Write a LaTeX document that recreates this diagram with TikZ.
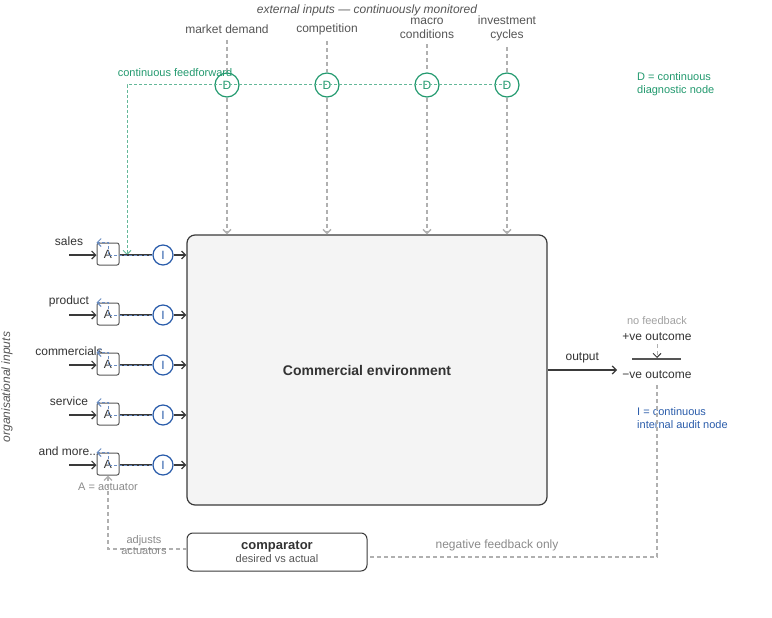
\documentclass[tikz,border=0pt]{standalone}
\usepackage{fontspec}
\setmainfont{Liberation Sans}
\usepackage{xcolor}
\usepackage{tikz}
\usetikzlibrary{arrows.meta,positioning}

\definecolor{textdark}{HTML}{333333}
\definecolor{labelgray}{HTML}{555555}
\definecolor{notegray}{HTML}{8A8A8A}
\definecolor{dashgray}{HTML}{B0B0B0}
\definecolor{boxgray}{HTML}{3A3A3A}
\definecolor{envfill}{HTML}{F4F4F4}
\definecolor{diaggreen}{HTML}{22996E}
\definecolor{auditblue}{HTML}{2A5CAA}

\begin{document}
\begin{tikzpicture}[
			x=1pt, y=-1pt,
			font=\fontsize{12}{14}\selectfont,
			>={Straight Barb[length=4pt,width=8pt]},
			lbl/.style={text=labelgray, align=center, inner sep=0pt},
			row/.style={text=textdark, inner sep=0pt},
			note/.style={font=\fontsize{11}{13}\selectfont, align=left, inner sep=0pt},
			act/.style={draw=boxgray!85, line width=1pt, rounded corners=2pt, fill=white, minimum size=22pt, inner sep=0pt, text=textdark},
			audit/.style={circle, draw=auditblue, line width=1.2pt, minimum size=20pt, inner sep=0pt, text=auditblue},
			diag/.style={circle, draw=diaggreen, line width=1.2pt, minimum size=24pt, inner sep=0pt, text=diaggreen},
			envbox/.style={draw=boxgray, line width=1.2pt, rounded corners=8pt, fill=envfill, minimum width=360pt, minimum height=270pt, font=\fontsize{14}{16}\selectfont\bfseries, text=textdark},
			compbox/.style={draw=boxgray, line width=1pt, rounded corners=6pt, fill=white, minimum width=180pt, minimum height=38pt, align=center, inner sep=0pt, text=textdark},
			flow/.style={->, line width=1.2pt, draw=boxgray},
			link/.style={line width=1.2pt, draw=boxgray},
			ext/.style={dashed, dash pattern=on 4pt off 3pt, line width=1.4pt, draw=dashgray},
			ff/.style={dash pattern=on 3pt off 2pt, line width=1pt, draw=diaggreen!70},
			fb/.style={dash pattern=on 3pt off 2pt, line width=1pt, draw=auditblue!70}
			]
			\useasboundingbox (0,0) rectangle (772,618);
			
			% external inputs
			\node[lbl, font=\fontsize{12}{14}\selectfont\itshape] (title) at (367,10) {external inputs — continuously monitored};
			\node[lbl] (md) at (227,29) {market demand};
			\node[lbl] (cp) at (327,29) {competition};
			\node[lbl] (mc) at (427,28) {macro\\conditions};
			\node[lbl] (ic) at (507,28) {investment\\cycles};
			
			\node[envbox] (env) at (367,370) {Commercial environment};
			
			\coordinate (ffcorner) at (127,85);
			\coordinate (ffend) at (127,255);
			\node[diag] (d1) at (227,85) {D};
			\node[diag] (d2) at (327,85) {D};
			\node[diag] (d3) at (427,85) {D};
			\node[diag] (d4) at (507,85) {D};
			
			\draw[ext] ([yshift=-6pt]md.south) -- (d1.north);
			\draw[ext] ([yshift=-6pt]cp.south) -- (d2.north);
			\draw[ext] ([yshift=-6pt]mc.south) -- (d3.north);
			\draw[ext] ([yshift=-6pt]ic.south) -- (d4.north);
			\draw[ext, ->] (d1.south) -- (d1 |- env.north);
			\draw[ext, ->] (d2.south) -- (d2 |- env.north);
			\draw[ext, ->] (d3.south) -- (d3 |- env.north);
			\draw[ext, ->] (d4.south) -- (d4 |- env.north);
			\draw[ff, ->] (d4.center) -- (ffcorner) -- (ffend);
			\node[note, text=diaggreen] (fflbl) at (175,73) {continuous feedforward};
			\node[note, text=diaggreen, anchor=west] (dkey) at (637,84) {D = continuous\\diagnostic node};
			
			% organisational inputs
			\node[row] (l1) at (69,241) {sales};
			\node[row] (l2) at (69,301) {product};
			\node[row] (l3) at (69,351) {commercials};
			\node[row] (l4) at (69,401) {service};
			\node[row] (l5) at (69,451) {and more...};
			
			\node[act] (a1) at (108,254) {A};
			\node[act] (a2) at (108,314) {A};
			\node[act] (a3) at (108,364) {A};
			\node[act] (a4) at (108,414) {A};
			\node[act] (a5) at (108,464) {A};
			
			\node[audit] (i1) at (163,255) {I};
			\node[audit] (i2) at (163,315) {I};
			\node[audit] (i3) at (163,365) {I};
			\node[audit] (i4) at (163,415) {I};
			\node[audit] (i5) at (163,465) {I};
			
			\draw[flow] (l1 |- i1) -- (a1.west |- i1);
			\draw[flow] (l2 |- i2) -- (a2.west |- i2);
			\draw[flow] (l3 |- i3) -- (a3.west |- i3);
			\draw[flow] (l4 |- i4) -- (a4.west |- i4);
			\draw[flow] (l5 |- i5) -- (a5.west |- i5);
			
			\draw[link] (a1.east |- i1) -- (i1.west);
			\draw[link] (a2.east |- i2) -- (i2.west);
			\draw[link] (a3.east |- i3) -- (i3.west);
			\draw[link] (a4.east |- i4) -- (i4.west);
			\draw[link] (a5.east |- i5) -- (i5.west);
			
			\draw[fb, ->] (i1.west) -- (a1 |- i1) -- (a1.north) -- (a1.north west);
			\draw[fb, ->] (i2.west) -- (a2 |- i2) -- (a2.north) -- (a2.north west);
			\draw[fb, ->] (i3.west) -- (a3 |- i3) -- (a3.north) -- (a3.north west);
			\draw[fb, ->] (i4.west) -- (a4 |- i4) -- (a4.north) -- (a4.north west);
			\draw[fb, ->] (i5.west) -- (a5 |- i5) -- (a5.north) -- (a5.north west);
			
			\draw[flow] (i1.east) -- (i1 -| env.west);
			\draw[flow] (i2.east) -- (i2 -| env.west);
			\draw[flow] (i3.east) -- (i3 -| env.west);
			\draw[flow] (i4.east) -- (i4 -| env.west);
			\draw[flow] (i5.east) -- (i5 -| env.west);
			
			\node[note, text=notegray] (akey) at (108,487) {A = actuator};
			\node[lbl, font=\fontsize{12}{14}\selectfont\itshape, rotate=90] (orglbl) at (7,387) {organisational inputs};
			
			% comparator and feedback
			\node[compbox] (comp) at (277,552) {{\fontsize{13}{15}\selectfont\bfseries comparator}\\[-1pt]{\fontsize{11}{13}\selectfont\color{labelgray} desired vs actual}};
			\coordinate (adjcorner) at (108,549);
			\draw[ext, ->] (comp.west |- adjcorner) -- (adjcorner) -- (a5.south);
			\node[note, text=notegray, align=center] (adjlbl) at (144,545) {adjusts\\[-2pt]actuators};
			
			% output side
			\coordinate (out) at (617,370);
			\draw[flow] (env.east |- out) -- node[above=6pt, row] {output} (out);
			\node[note, text=notegray!80] (nofb) at (657,321) {no feedback};
			\node[row] (pos) at (657,337) {+ve outcome};
			\node[row] (neg) at (657,375) {−ve outcome};
			\coordinate (barl) at (632,359);
			\coordinate (barr) at (681,359);
			\draw[line width=1.2pt, draw=labelgray] (barl) -- (barr);
			\draw[ext, line width=1pt, -{Straight Barb[length=4pt,width=8pt,color=boxgray]}] ([yshift=-3pt]pos.south) -- ([yshift=1pt]pos |- barl);
			\node[note, text=auditblue, anchor=west] (ikey) at (637,418) {I = continuous\\internal audit node};
			
			\coordinate (nfcorner) at (657,557);
			\draw[ext] ([yshift=-6pt]neg.south) -- (nfcorner) -- (nfcorner -| comp.east);
			\node[lbl, text=notegray] (nflbl) at (497,545) {negative feedback only};
		\end{tikzpicture}
\end{document}
